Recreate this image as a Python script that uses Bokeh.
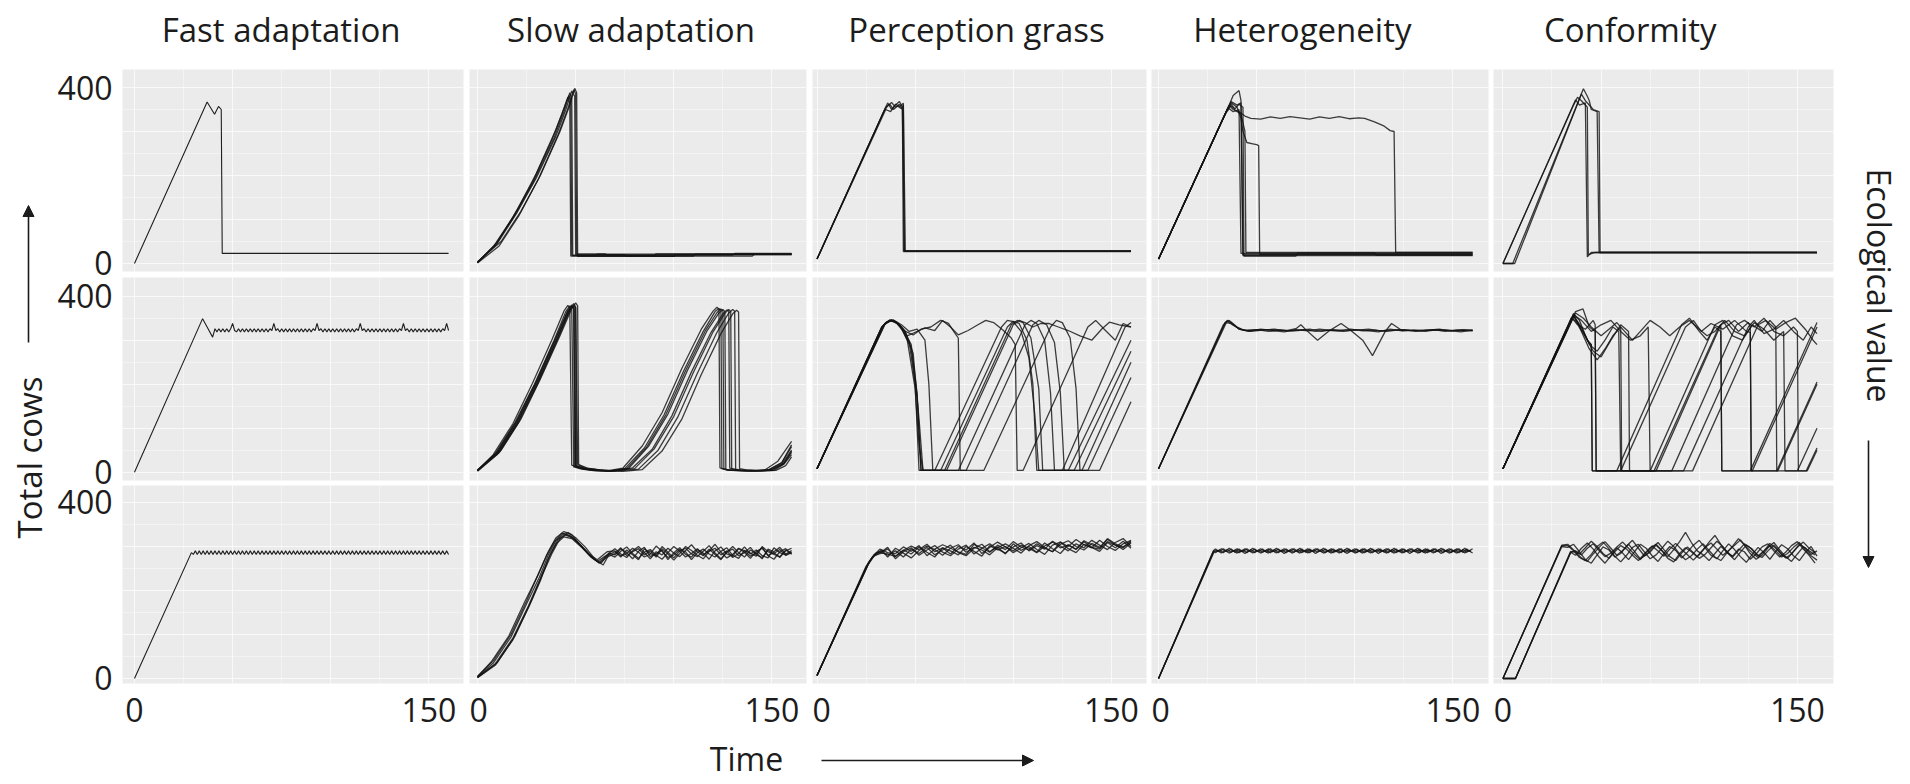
from bokeh.plotting import figure
from bokeh.layouts import row, column
from bokeh.models import Range1d, FixedTicker, Grid, Label, Arrow, NormalHead
from bokeh.embed import file_html
from bokeh.resources import INLINE

# ---------------- texts ----------------
TITLES = ["Fast adaptation", "Slow adaptation", "Perception grass", "Heterogeneity", "Conformity"]
Y_LABEL = "Total cows"
Y2_LABEL = "Ecological value"
X_LABEL = "Time"
Y_TICKS = [0, 400]
X_TICKS = [0, 150]

# ---------------- data: row 1 ----------------
FA1_T = [[0, 37, 40.8, 42.8, 44.2, 44.7, 160]]
FA1_V = [[0, 367, 339, 357, 350, 23, 23]]

SA1_T = [[0, 10, 20, 30, 40, 45, 48, 49.5, 50, 75, 76, 110, 111, 160],
         [0, 9, 19, 29, 39, 44, 47, 48, 48.5, 90, 91, 160],
         [0, 11, 21, 31, 41, 46, 49, 50, 50.5, 65, 66, 130, 131, 160],
         [0, 12, 22, 32, 42, 47, 49.5, 50.5, 51, 100, 101, 160],
         [0, 10, 20, 30, 40, 44, 46.5, 47.5, 48, 60, 61, 160],
         [0, 8, 18, 28, 38, 43, 46, 47, 47.5, 140, 141, 160]]
SA1_V = [[2, 45, 115, 195, 290, 350, 392, 380, 20, 20, 17, 17, 21, 21],
         [3, 42, 110, 190, 285, 345, 388, 375, 18, 18, 22, 22],
         [1, 40, 108, 192, 292, 352, 395, 385, 22, 22, 19, 19, 23, 23],
         [4, 50, 118, 200, 300, 360, 398, 388, 16, 16, 20, 20],
         [2, 48, 120, 205, 305, 352, 382, 372, 19, 19, 21, 21],
         [3, 38, 105, 185, 282, 340, 378, 366, 17, 17, 20, 20]]

PG1_T = [[0, 35, 37, 39, 41, 43, 44, 44.5, 160],
         [0, 34, 36, 38, 40, 42, 43.5, 44, 160],
         [0, 36, 38, 40, 42, 43.5, 44.5, 160],
         [0, 35, 37.5, 40, 42, 44, 45, 160]]
PG1_V = [[10, 355, 362, 350, 358, 352, 360, 28, 28],
         [10, 345, 358, 366, 355, 362, 350, 27, 27],
         [10, 365, 350, 360, 368, 355, 29, 29],
         [10, 350, 345, 362, 357, 364, 28, 28]]

HE1_T = [[0, 35, 37, 40, 42, 43, 160],
         [0, 36, 38, 41, 42, 43, 160],
         [0, 34, 36, 38, 41, 42, 160],
         [0, 35, 37, 39, 42, 44, 44.5, 160],
         [0, 36, 38, 41, 44, 47, 52, 57, 62, 67, 72, 77, 82, 87, 92, 97, 102, 105, 110, 115, 118, 120, 120.8, 160],
         [0, 35, 37, 40, 42, 43, 45, 48, 50, 51, 51.5, 160],
         [0, 35, 37, 39, 41, 43, 43.5, 70, 71, 110, 111, 160]]
HE1_V = [[10, 350, 368, 360, 365, 20, 20],
         [10, 360, 382, 393, 370, 18, 18],
         [10, 340, 352, 345, 350, 23, 23],
         [10, 350, 362, 348, 340, 300, 25, 25],
         [10, 360, 350, 345, 335, 330, 328, 333, 330, 334, 331, 328, 333, 330, 334, 329, 331, 330, 322, 312, 302, 300, 25, 25],
         [10, 350, 365, 355, 330, 300, 275, 272, 270, 268, 21, 21],
         [10, 350, 358, 352, 362, 355, 17, 17, 24, 24, 19, 19]]

CO1_T = [[0, 37, 39, 42, 43, 45, 160],
         [0, 5, 41, 43, 44, 45, 48, 49, 160],
         [0, 36, 38, 40, 43, 43.5, 47, 160],
         [0, 6, 40, 42, 46, 49, 49.5, 160]]
CO1_V = [[0, 372, 360, 365, 15, 25, 25],
         [0, 0, 397, 380, 370, 350, 345, 25, 25],
         [0, 360, 378, 370, 355, 20, 25, 25],
         [0, 0, 385, 370, 350, 345, 25, 25]]

# ---------------- data: row 2 ----------------
FA2_HEAD_T = [0, 34.7, 37, 39.8, 41]
FA2_HEAD_V = [0, 349, 330, 307, 326]
FA2_BAND_T0 = 42
FA2_BAND_V = [319, 326, 319, 326, 319, 326, 319, 326, 338, 322,
              319, 326, 319, 326, 319, 326, 319, 326, 319, 326,
              319, 326, 319, 326, 319, 326, 319, 326, 322, 338,
              322, 326, 319, 326, 319, 326, 319, 326, 319, 326,
              319, 326, 319, 326, 319, 326, 319, 326, 319, 326,
              322, 338, 322, 326, 319, 326, 319, 326, 319, 326,
              319, 326, 319, 326, 319, 326, 319, 326, 319, 326,
              319, 326, 322, 338, 322, 326, 319, 326, 319, 326,
              319, 326, 319, 326, 319, 326, 319, 326, 319, 326,
              319, 326, 319, 326, 322, 338, 322, 326, 319, 326,
              319, 326, 319, 326, 319, 326, 319, 326, 319, 326,
              319, 326, 319, 326, 319, 326, 322, 338, 322]

SA2_T = [[0, 10, 20, 30, 40, 46, 48, 49, 50, 54, 60, 68, 75, 85, 95, 105, 115, 121, 123, 124, 124.5, 128, 140, 148, 155, 160],
         [0, 9, 19, 29, 39, 45, 47, 48, 49, 53, 60, 68, 77, 87, 97, 107, 117, 123, 125, 126, 126.5, 130, 140, 149, 155, 160],
         [0, 11, 21, 31, 41, 47, 49, 50, 51, 55, 62, 70, 79, 89, 99, 109, 119, 125, 127, 128, 128.5, 132, 142, 150, 156, 160],
         [0, 10, 20, 30, 40, 46, 48, 49.5, 50, 55, 62, 72, 82, 92, 102, 112, 122, 128, 130, 131, 131.5, 135, 143, 151, 156, 160],
         [0, 8, 18, 28, 38, 44, 46, 47, 48, 52, 58, 66, 74, 84, 94, 104, 114, 120, 122, 123, 123.5, 127, 137, 146, 153, 160],
         [0, 12, 22, 32, 42, 48, 50, 51, 51.5, 56, 64, 74, 84, 94, 104, 114, 124, 130, 132, 133, 133.5, 137, 145, 152, 157, 160],
         [0, 10, 20, 30, 40, 46, 48, 49, 49.5, 54, 60, 67, 76, 86, 96, 106, 116, 122, 124, 125, 125.5, 129, 139, 148, 155, 160],
         [0, 11, 21, 31, 41, 47, 49, 50, 50.5, 55, 62, 70, 80, 90, 100, 110, 120, 126, 128, 129, 129.5, 133, 143, 150, 156, 160]]
SA2_V = [[4, 45, 115, 205, 305, 368, 380, 372, 15, 8, 4, 3, 8, 55, 130, 230, 320, 365, 372, 368, 8, 5, 3, 4, 22, 62],
         [3, 42, 112, 200, 300, 365, 378, 370, 12, 7, 3, 2, 9, 58, 132, 232, 322, 362, 370, 365, 6, 4, 3, 5, 18, 50],
         [5, 48, 118, 210, 308, 370, 383, 376, 18, 9, 5, 3, 10, 52, 128, 228, 318, 360, 369, 366, 9, 5, 4, 5, 20, 45],
         [2, 40, 110, 198, 298, 362, 376, 375, 14, 8, 4, 3, 7, 50, 125, 225, 318, 362, 370, 366, 7, 4, 3, 4, 18, 40],
         [4, 40, 110, 202, 302, 366, 379, 373, 16, 9, 5, 3, 9, 60, 135, 235, 325, 366, 375, 370, 10, 5, 3, 4, 25, 70],
         [3, 50, 120, 212, 310, 372, 385, 378, 17, 9, 4, 2, 6, 48, 120, 222, 315, 360, 368, 364, 8, 5, 3, 4, 15, 35],
         [5, 46, 117, 207, 306, 366, 378, 371, 13, 7, 4, 3, 8, 56, 131, 231, 321, 363, 371, 367, 7, 4, 3, 5, 21, 58],
         [4, 44, 114, 204, 304, 367, 379, 374, 15, 8, 5, 3, 8, 53, 127, 227, 319, 361, 370, 365, 8, 4, 3, 5, 19, 48]]

PG2_T = [[0, 33, 36, 39, 43, 47, 50, 52, 63, 97, 100, 103, 107, 110, 112, 128, 160],
         [0, 34, 37, 40, 44, 48, 51, 53, 65, 99, 102, 105, 109, 113, 115, 131, 160],
         [0, 33, 37, 41, 45, 49, 53, 58, 63, 67, 70, 72, 73, 76, 110, 113, 117, 121, 124, 126, 138, 160],
         [0, 34, 38, 42, 46, 50, 55, 60, 64, 68, 72, 77, 82, 86, 90, 95, 99, 101, 102, 105, 138, 142, 147, 152, 156, 160],
         [0, 35, 38, 42, 46, 50, 52, 54, 66, 100, 103, 106, 110, 114, 118, 123, 128, 134, 140, 145, 149, 154, 160],
         [0, 34, 38, 41, 45, 49, 52, 54, 72, 106, 109, 112, 116, 119, 121, 135, 160],
         [0, 35, 39, 43, 47, 51, 55, 57, 59, 85, 119, 122, 125, 129, 132, 134, 144, 160],
         [0, 33, 37, 40, 44, 48, 51, 53, 60, 94, 97, 100, 104, 108, 111, 113, 125, 157, 160]]
PG2_V = [[8, 330, 343, 345, 330, 295, 200, 4, 4, 330, 343, 338, 300, 200, 4, 4, 300],
         [8, 335, 345, 342, 325, 290, 180, 4, 4, 335, 345, 340, 305, 190, 4, 4, 275],
         [8, 330, 345, 338, 320, 312, 325, 330, 345, 338, 318, 305, 4, 4, 335, 345, 335, 295, 180, 4, 4, 215],
         [8, 335, 345, 335, 310, 318, 328, 322, 345, 330, 312, 322, 335, 345, 340, 322, 305, 290, 4, 4, 330, 345, 322, 300, 338, 330],
         [8, 340, 346, 335, 300, 190, 60, 4, 4, 335, 345, 340, 330, 338, 338, 330, 322, 310, 300, 325, 341, 335, 330],
         [8, 335, 346, 340, 320, 270, 120, 4, 4, 335, 345, 338, 300, 180, 4, 4, 250],
         [8, 340, 346, 335, 320, 325, 300, 200, 4, 4, 330, 345, 340, 305, 190, 4, 4, 160],
         [8, 330, 346, 342, 320, 280, 170, 4, 4, 330, 345, 342, 320, 260, 130, 4, 4, 330, 340]]

HE2_T = [[0, 34, 36, 40, 44, 50, 56, 62, 68, 74, 80, 86, 92, 98, 104, 110, 116, 122, 128, 134, 140, 146, 152, 160],
         [0, 33, 35, 38, 42, 47, 53, 59, 65, 71, 77, 83, 89, 95, 101, 107, 113, 119, 125, 131, 137, 143, 149, 155, 160],
         [0, 35, 37, 41, 45, 55, 65, 70, 72.5, 75, 81, 86.5, 93, 98, 104, 109, 115.5, 118.7, 124, 135, 150, 160],
         [0, 34, 37, 41, 46, 52, 58, 64, 70, 76, 82, 88, 94, 100, 106, 112, 118, 124, 130, 136, 142, 148, 154, 160]]
HE2_V = [[8, 341, 345, 330, 322, 324, 320, 323, 321, 324, 320, 323, 322, 325, 321, 323, 320, 324, 322, 321, 324, 320, 323, 322],
         [8, 335, 343, 334, 324, 320, 323, 325, 321, 322, 325, 320, 324, 321, 323, 325, 321, 322, 324, 320, 323, 325, 321, 324, 322],
         [8, 345, 340, 325, 322, 324, 322, 326, 335, 324, 300, 320, 338, 322, 300, 265, 320, 338, 322, 323, 322, 322],
         [8, 340, 338, 326, 320, 325, 322, 319, 324, 321, 325, 322, 320, 324, 322, 319, 325, 321, 323, 320, 324, 322, 319, 323]]

CO2_T = [[0, 36, 39, 43, 45, 45.5, 58, 91, 95, 100, 104, 108, 111, 111.5, 126, 160],
         [0, 37, 40.8, 44, 47, 47.5, 60, 93, 97, 101, 106, 112, 118, 124, 126, 126.5, 139.5, 160],
         [0, 36, 40, 44, 48, 52, 56, 59, 60, 75, 108, 112, 117, 122, 127, 132, 136, 139, 139.5, 150, 160],
         [0, 35, 38, 42, 46, 50, 55, 60, 64, 64.5, 77, 110, 113, 118, 123, 128, 133, 138, 143, 143.7, 154.5, 160],
         [0, 36, 40, 45, 50, 55, 60, 65, 70, 74, 75, 86, 119, 123, 128, 133, 138, 143, 148, 150, 150.5, 155, 160],
         [0, 36, 39, 43, 45, 45.5, 92, 125, 128, 133, 138, 143, 148, 153, 157, 160],
         [0, 35, 38, 42, 46, 47, 47.5, 96.6, 130, 134, 139, 144, 149, 154, 158, 160],
         [0, 37, 41, 45, 50, 54, 58, 62, 66, 70, 75, 80, 85, 90, 95, 100, 104, 108, 111, 111.5, 127, 160],
         [0, 36, 40, 44, 48, 52, 56, 60, 60.5, 78, 111, 115, 120, 125, 126, 126.5, 140, 160]]
CO2_V = [[8, 360, 345, 300, 290, 3, 3, 335, 350, 320, 300, 330, 320, 3, 3, 340],
         [8, 365, 371, 330, 320, 3, 3, 330, 345, 320, 338, 325, 345, 320, 318, 3, 3, 205],
         [8, 355, 330, 290, 275, 300, 330, 320, 3, 3, 335, 345, 310, 300, 335, 320, 345, 330, 3, 3, 100],
         [8, 350, 340, 310, 275, 262, 300, 335, 320, 3, 3, 330, 345, 320, 310, 340, 325, 300, 320, 3, 3, 55],
         [8, 358, 345, 320, 335, 345, 320, 300, 310, 330, 3, 3, 335, 345, 330, 350, 320, 310, 330, 320, 3, 3, 50],
         [8, 360, 330, 300, 290, 3, 3, 330, 345, 315, 325, 345, 320, 300, 330, 315],
         [8, 352, 335, 325, 345, 335, 3, 3, 335, 345, 325, 340, 350, 325, 300, 290],
         [8, 362, 350, 330, 310, 325, 340, 320, 300, 320, 345, 330, 310, 330, 345, 325, 310, 320, 335, 3, 3, 330],
         [8, 355, 320, 280, 255, 280, 310, 330, 3, 3, 335, 345, 320, 340, 330, 3, 3, 200]]

# ---------------- data: row 3 ----------------
FA3_HEAD_T = [0, 29]
FA3_HEAD_V = [0, 286]
FA3_BAND_T0 = 30
FA3_BAND_V = [282, 290, 282, 290, 282, 290, 282, 290, 282, 290,
              282, 290, 282, 290, 282, 290, 282, 290, 282, 290,
              282, 290, 282, 290, 282, 290, 282, 290, 282, 290,
              282, 290, 282, 290, 282, 290, 282, 290, 282, 290,
              282, 290, 282, 290, 282, 290, 282, 290, 282, 290,
              282, 290, 282, 290, 282, 290, 282, 290, 282, 290,
              282, 290, 282, 290, 282, 290, 282, 290, 282, 290,
              282, 290, 282, 290, 282, 290, 282, 290, 282, 290,
              282, 290, 282, 290, 282, 290, 282, 290, 282, 290,
              282, 290, 282, 290, 282, 290, 282, 290, 282, 290,
              282, 290, 282, 290, 282, 290, 282, 290, 282, 290,
              282, 290, 282, 290, 282, 290, 282, 290, 282, 290,
              282, 290, 282, 290, 282, 290, 282, 290, 282, 290,
              282]

SA3_HEAD_T = [[0, 8, 17, 25, 31.5, 36, 40, 44, 48, 53, 58, 62, 66],
              [0, 9, 18, 26, 32, 37, 41, 45, 49, 54, 59, 63, 67],
              [0, 7, 16, 24, 30.5, 35, 39, 43, 47, 52, 57, 61, 65],
              [0, 10, 19, 27, 33, 38, 42, 46, 50, 55, 60, 64, 67],
              [0, 8, 17, 25, 31, 36, 40, 44, 48, 52, 57, 61, 66],
              [0, 9, 18, 26, 32, 36, 40, 44, 48, 53, 58, 62, 66]]
SA3_HEAD_V = [[3, 35, 94, 170, 230, 280, 314, 329, 322, 300, 275, 264, 280],
              [2, 33, 92, 166, 228, 282, 316, 326, 318, 296, 272, 262, 285],
              [4, 38, 97, 174, 232, 278, 310, 330, 325, 305, 280, 266, 278],
              [3, 36, 96, 172, 235, 285, 318, 332, 320, 298, 270, 258, 282],
              [5, 40, 100, 176, 238, 288, 320, 334, 327, 305, 282, 270, 288],
              [2, 30, 88, 162, 222, 272, 306, 322, 318, 298, 276, 262, 276]]
SA3_BAND_T0 = 70
SA3_BAND_STEP = 3
SA3_BAND_V = [[288, 276, 292, 281, 270, 295, 284, 279, 300, 287, 274, 290, 296, 283, 277, 289, 302, 285, 272, 288, 294, 279, 286, 298, 281, 275, 291, 284, 293, 280, 286],
              [281, 295, 286, 272, 289, 298, 277, 284, 291, 270, 286, 297, 282, 276, 293, 285, 271, 290, 299, 283, 278, 295, 287, 273, 289, 296, 280, 286, 275, 292, 284],
              [295, 283, 275, 290, 300, 286, 272, 288, 281, 296, 285, 277, 291, 304, 288, 279, 294, 282, 270, 287, 300, 286, 276, 292, 284, 298, 279, 271, 288, 295, 282],
              [276, 289, 299, 284, 273, 287, 293, 280, 271, 286, 300, 289, 276, 284, 295, 281, 290, 305, 287, 274, 282, 296, 290, 278, 285, 272, 294, 288, 298, 283, 291],
              [290, 279, 284, 296, 287, 276, 283, 301, 289, 275, 281, 293, 288, 270, 286, 294, 283, 276, 289, 297, 280, 273, 291, 285, 278, 300, 288, 282, 277, 290, 296],
              [284, 297, 279, 288, 295, 281, 290, 276, 295, 283, 269, 284, 300, 291, 280, 272, 289, 296, 281, 290, 275, 284, 299, 283, 292, 279, 274, 297, 286, 281, 288]]

PG3_HEAD_T = [[0, 26, 29, 32], [0, 25, 28, 32], [0, 26, 30, 33],
              [0, 27, 30, 33], [0, 25, 29, 32], [0, 26, 29, 33]]
PG3_HEAD_V = [[7, 262, 281, 289], [7, 252, 275, 286], [7, 260, 284, 292],
              [7, 268, 285, 288], [7, 255, 280, 294], [7, 258, 279, 285]]
PG3_BAND_T0 = 36
PG3_BAND_STEP = 4
PG3_BAND_V = [[280, 290, 276, 294, 284, 298, 281, 292, 303, 286, 279, 296, 305, 288, 299, 283, 306, 291, 300, 287, 308, 295, 284, 304, 293, 311, 298, 289, 309, 297, 312, 296],
              [294, 278, 292, 283, 299, 287, 276, 297, 290, 281, 300, 289, 278, 302, 292, 300, 286, 297, 307, 293, 282, 303, 310, 295, 286, 305, 297, 314, 300, 291, 306, 314],
              [276, 296, 285, 274, 291, 301, 293, 280, 296, 304, 287, 298, 292, 281, 297, 306, 296, 285, 302, 311, 298, 288, 305, 313, 300, 292, 307, 298, 316, 304, 293, 308],
              [298, 272, 288, 297, 280, 292, 302, 287, 279, 294, 303, 283, 296, 306, 294, 285, 299, 308, 290, 302, 294, 312, 301, 290, 306, 297, 314, 303, 293, 309, 318, 300],
              [286, 284, 299, 289, 302, 279, 294, 304, 296, 288, 282, 305, 297, 287, 303, 293, 311, 299, 292, 306, 296, 288, 310, 300, 316, 304, 298, 294, 311, 303, 297, 313],
              [283, 277, 291, 301, 293, 305, 288, 297, 283, 300, 292, 308, 284, 298, 310, 299, 290, 303, 296, 286, 301, 310, 297, 303, 294, 313, 304, 296, 318, 306, 299, 310]]

HE3_HEAD_T = [[0, 28], [0, 28.4], [0, 28.2], [0, 27.8]]
HE3_HEAD_V = [[0, 291], [0, 289], [0, 290], [0, 288]]
HE3_BAND_T0 = [29, 30, 30, 29]
HE3_BAND_STEP = 2
HE3_BAND_V = [[294, 288, 295, 288, 294, 287, 294, 288, 295, 288,
               294, 288, 294, 287, 295, 288, 294, 288, 294, 288,
               295, 288, 294, 287, 294, 288, 295, 288, 294, 288,
               294, 288, 295, 287, 294, 288, 294, 288, 295, 288,
               294, 288, 294, 287, 295, 288, 294, 288, 294, 288,
               295, 288, 294, 287, 294, 288, 295, 288, 294, 288,
               294, 288, 295, 287, 294, 288],
              [291, 285, 291, 285, 290, 285, 291, 284, 291, 285,
               291, 285, 290, 285, 291, 285, 291, 284, 291, 285,
               290, 285, 291, 285, 291, 284, 291, 285, 290, 285,
               291, 285, 291, 284, 291, 285, 290, 285, 291, 285,
               291, 284, 291, 285, 290, 285, 291, 285, 291, 284,
               291, 285, 290, 285, 291, 285, 291, 284, 291, 285,
               290, 285, 291, 285, 291, 285],
              [289, 295, 289, 296, 289, 295, 288, 295, 289, 296,
               289, 295, 289, 295, 288, 296, 289, 295, 289, 295,
               289, 296, 288, 295, 289, 295, 289, 296, 289, 295,
               288, 295, 289, 296, 289, 295, 289, 295, 288, 296,
               289, 295, 289, 295, 289, 296, 288, 295, 289, 295,
               289, 296, 289, 295, 288, 295, 289, 296, 289, 295,
               289, 295, 288, 296, 289, 295],
              [286, 292, 286, 293, 287, 292, 286, 292, 286, 293,
               286, 292, 287, 292, 286, 293, 286, 292, 286, 292,
               287, 293, 286, 292, 286, 292, 287, 293, 286, 292,
               286, 292, 286, 293, 287, 292, 286, 292, 286, 293,
               286, 292, 287, 292, 286, 293, 286, 292, 286, 292,
               287, 293, 286, 292, 286, 292, 287, 293, 286, 292,
               286, 292, 286, 293, 287, 292]]

CO3_HEAD_T = [[0, 30], [0, 6.4, 34.5], [0, 30], [0, 6.4, 34.5], [0, 30], [0, 6.4, 34.5]]
CO3_HEAD_V = [[0, 302], [0, 0, 287], [0, 300], [0, 0, 289], [0, 303], [0, 0, 286]]
CO3_BAND_T0 = [33, 37, 33, 37, 33, 37]
CO3_BAND_STEP = 3
CO3_BAND_V = [[302, 290, 275, 268, 282, 300, 310, 295, 278, 265, 280, 298, 305, 288, 272, 281, 296, 312, 300, 283, 270, 279, 294, 306, 291, 276, 268, 285, 301, 318, 303, 284, 271, 280, 297, 309, 292, 277, 266, 283, 299, 290, 281],
              [280, 296, 308, 294, 276, 262, 279, 297, 285, 270, 288, 305, 296, 279, 266, 284, 300, 291, 274, 287, 303, 314, 297, 280, 272, 290, 306, 293, 277, 264, 282, 298, 286, 271, 289, 304, 295, 279, 268, 286, 300, 278],
              [298, 305, 288, 270, 262, 281, 299, 292, 276, 284, 301, 314, 296, 279, 287, 303, 290, 273, 265, 284, 297, 288, 276, 292, 310, 325, 305, 286, 278, 294, 288, 271, 283, 299, 306, 290, 276, 287, 302, 311, 294, 280, 262],
              [287, 274, 266, 283, 298, 311, 296, 280, 291, 305, 289, 272, 281, 296, 309, 293, 277, 268, 285, 299, 286, 273, 282, 297, 312, 300, 283, 270, 287, 303, 294, 279, 290, 307, 296, 281, 273, 289, 305, 297, 282, 290],
              [305, 292, 283, 297, 312, 300, 284, 273, 288, 302, 294, 280, 268, 283, 297, 305, 291, 277, 293, 311, 332, 309, 290, 281, 268, 284, 300, 289, 276, 291, 306, 297, 282, 275, 290, 303, 288, 274, 283, 298, 310, 296, 286],
              [290, 281, 296, 306, 291, 277, 285, 299, 310, 296, 282, 270, 286, 301, 290, 278, 294, 307, 293, 281, 269, 283, 298, 308, 294, 280, 291, 303, 315, 299, 286, 275, 290, 302, 290, 276, 284, 298, 309, 292, 279, 269]]


def with_band(head_t, head_v, t0, step, band_v):
    t = list(head_t) + [t0 + step * i for i in range(len(band_v))]
    v = list(head_v) + list(band_v)
    return t, v


FA2_T, FA2_V = with_band(FA2_HEAD_T, FA2_HEAD_V, FA2_BAND_T0, 1, FA2_BAND_V)
FA3_T, FA3_V = with_band(FA3_HEAD_T, FA3_HEAD_V, FA3_BAND_T0, 1, FA3_BAND_V)


def runs_from(head_t, head_v, t0s, step, bands):
    ts, vs = [], []
    for i in range(len(bands)):
        t0 = t0s[i] if isinstance(t0s, list) else t0s
        t, v = with_band(head_t[i], head_v[i], t0, step, bands[i])
        ts.append(t)
        vs.append(v)
    return ts, vs


SA3_T, SA3_V = runs_from(SA3_HEAD_T, SA3_HEAD_V, SA3_BAND_T0, SA3_BAND_STEP, SA3_BAND_V)
PG3_T, PG3_V = runs_from(PG3_HEAD_T, PG3_HEAD_V, PG3_BAND_T0, PG3_BAND_STEP, PG3_BAND_V)
HE3_T, HE3_V = runs_from(HE3_HEAD_T, HE3_HEAD_V, HE3_BAND_T0, HE3_BAND_STEP, HE3_BAND_V)
CO3_T, CO3_V = runs_from(CO3_HEAD_T, CO3_HEAD_V, CO3_BAND_T0, CO3_BAND_STEP, CO3_BAND_V)

PANELS = [
    [(FA1_T, FA1_V), (SA1_T, SA1_V), (PG1_T, PG1_V), (HE1_T, HE1_V), (CO1_T, CO1_V)],
    [([FA2_T], [FA2_V]), (SA2_T, SA2_V), (PG2_T, PG2_V), (HE2_T, HE2_V), (CO2_T, CO2_V)],
    [([FA3_T], [FA3_V]), (SA3_T, SA3_V), (PG3_T, PG3_V), (HE3_T, HE3_V), (CO3_T, CO3_V)],
]

# ---------------- layout / style ----------------
FONT = "Open Sans"
TXT = "#1c1c1c"
LINE = "#141414"
BG = "#EBEBEB"

COL_FRAME_W = [341, 337, 334, 337, 340]
COL_RIGHT = [6, 6, 5, 5, 10]
C1_LEFT = 70
ROW_FRAME_H = [202, 203, 198]
ROW_BOTTOM = [6, 5, 52]
XR = [(-6.1, 167.6), (-4.1, 167.6), (-2.3, 167.9), (-3.6, 168.1), (-4.8, 168.4)]
YR = [(-18.2, 440.9), (-18.9, 442.5), (-11.4, 438.6)]

LEFT_W = 52
RIGHT_W = 62
TOP_H = 69
BOTTOM_H = 45
TOTAL_H = 780
MID_W = sum(COL_FRAME_W) + sum(COL_RIGHT) + C1_LEFT


def strip(w, h):
    s = figure(width=w, height=h, x_range=Range1d(0, w), y_range=Range1d(0, h),
               output_backend="svg", toolbar_location=None,
               x_axis_location=None, y_axis_location=None,
               min_border=0, min_border_left=0, min_border_right=0,
               min_border_top=0, min_border_bottom=0,
               outline_line_color=None, background_fill_color="white",
               border_fill_color="white")
    s.center = [r for r in s.center if not isinstance(r, Grid)]
    return s


def panel(ri, ci):
    ts, vs = PANELS[ri][ci]
    mbl = C1_LEFT if ci == 0 else 0
    mbr = COL_RIGHT[ci]
    mbb = ROW_BOTTOM[ri]
    p = figure(width=mbl + COL_FRAME_W[ci] + mbr, height=ROW_FRAME_H[ri] + mbb,
               x_range=Range1d(*XR[ci]), y_range=Range1d(*YR[ri]),
               output_backend="svg", toolbar_location=None,
               x_axis_location="below" if ri == 2 else None,
               y_axis_location="left" if ci == 0 else None,
               min_border=0, min_border_left=mbl, min_border_right=mbr,
               min_border_top=0, min_border_bottom=mbb,
               background_fill_color=BG, border_fill_color="white",
               outline_line_color=None)
    p.center = [r for r in p.center if not isinstance(r, Grid)]
    gx = Grid(dimension=0, ticker=FixedTicker(ticks=[0, 50, 100, 150], minor_ticks=[25, 75, 125]),
              grid_line_color="white", grid_line_alpha=0.7, grid_line_width=1,
              minor_grid_line_color="white", minor_grid_line_alpha=0.4, minor_grid_line_width=1)
    gy = Grid(dimension=1, ticker=FixedTicker(ticks=[0, 100, 200, 300, 400], minor_ticks=[50, 150, 250, 350]),
              grid_line_color="white", grid_line_alpha=0.7, grid_line_width=1,
              minor_grid_line_color="white", minor_grid_line_alpha=0.4, minor_grid_line_width=1)
    p.add_layout(gx)
    p.add_layout(gy)
    if ri == 2:
        p.xaxis[0].ticker = FixedTicker(ticks=X_TICKS)
    if ci == 0:
        p.yaxis[0].ticker = FixedTicker(ticks=Y_TICKS)
    for ax in list(p.xaxis) + list(p.yaxis):
        ax.axis_line_color = None
        ax.major_tick_line_color = None
        ax.minor_tick_line_color = None
        ax.major_tick_out = 0
        ax.major_tick_in = 0
        ax.minor_tick_out = 0
        ax.minor_tick_in = 0
        ax.major_label_text_font = FONT
        ax.major_label_text_font_size = "32px"
        ax.major_label_text_color = TXT
    for ax in p.xaxis:
        ax.major_label_standoff = 14
    for ax in p.yaxis:
        ax.major_label_standoff = 10
    single = len(ts) == 1
    p.multi_line(xs=ts, ys=vs, line_color=LINE, line_width=1.1 if single else 1.3,
                 line_alpha=0.95 if single else 0.82)
    return p


def add_text(fig, x, y, text, size="33px", angle=0.0):
    fig.add_layout(Label(x=x, y=y, text=text, angle=angle, text_font=FONT, text_font_size=size,
                         text_color=TXT, text_align="center", text_baseline="middle"))


def add_arrow(fig, x0, y0, x1, y1):
    fig.add_layout(Arrow(x_start=x0, y_start=y0, x_end=x1, y_end=y1, line_color=TXT, line_width=1.6,
                         end=NormalHead(size=11, fill_color=TXT, line_color=TXT)))


# top strip with column titles
top = strip(MID_W, TOP_H)
TITLE_X = [228.6, 578.5, 924, 1249.8, 1577.8]
for tx, tt in zip(TITLE_X, TITLES):
    add_text(top, tx, 40.5, tt)

# bottom strip with the time label and arrow
bottom = strip(MID_W, BOTTOM_H)
add_text(bottom, 694, 22, X_LABEL, size="32px")
add_arrow(bottom, 769, 20, 981, 20)

# left strip
left = strip(LEFT_W, TOTAL_H)
add_text(left, 28.5, 323, Y_LABEL, angle=1.5707963)
add_arrow(left, 28, 438, 28, 575)

# right strip
right = strip(RIGHT_W, TOTAL_H)
add_text(right, 36, 495, Y2_LABEL, size="32px", angle=-1.5707963)
add_arrow(right, 25, 340, 25, 213)

rows = [row(*[panel(ri, ci) for ci in range(5)], spacing=0) for ri in range(3)]
middle = column(top, *rows, bottom, spacing=0)
layout = row(left, middle, right, spacing=0)

open("out.html", "w").write(file_html(layout, INLINE))
